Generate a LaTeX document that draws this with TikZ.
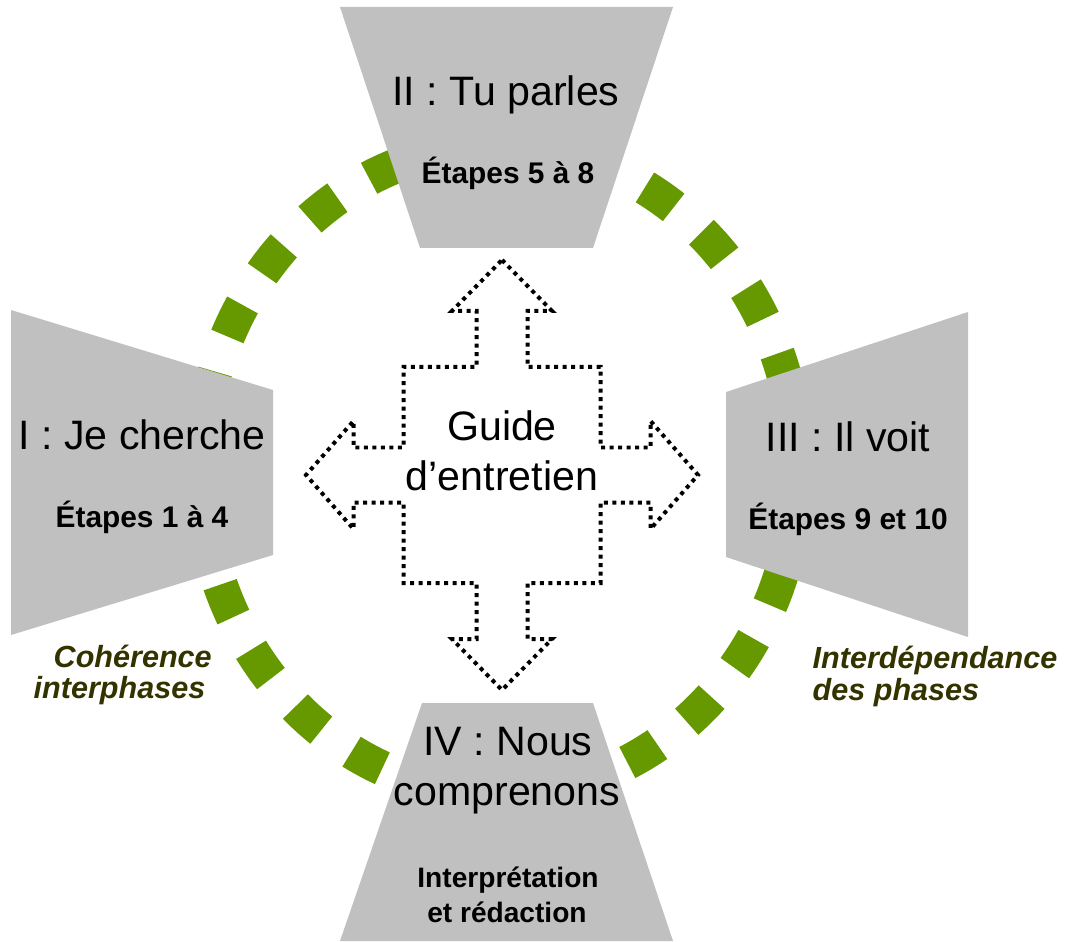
\documentclass[tikz,border=0pt]{standalone}
\usepackage{fontspec}
\setmainfont{Liberation Sans}
\definecolor{phasegray}{RGB}{192,192,192}
\definecolor{ringgreen}{RGB}{102,153,0}
\definecolor{notecol}{RGB}{51,51,0}

\begin{document}
\begin{tikzpicture}[
  phase/.style={fill=phasegray},
  title/.style={anchor=base, inner sep=0pt, font=\fontsize{11.7}{14}\selectfont},
  steps/.style={anchor=base, inner sep=0pt, font=\fontsize{8.5}{10}\selectfont\bfseries},
  note/.style={anchor=base west, inner sep=0pt, text=notecol, font=\fontsize{8.7}{10}\selectfont\bfseries\itshape},
  guide/.style={draw=black, fill=white, line width=0.04cm, dash pattern=on 0.04cm off 0.045cm}
]
\useasboundingbox (0,0) rectangle (10.75,9.41);

% Ring of green squares (27 dashes round the ellipse)
\draw[ringgreen, line width=0.35cm, dash pattern=on 0.35cm off 0.372cm, dash phase=0.608cm]
  (4.99,4.71) ellipse [x radius=2.98, y radius=3.24];

% Phase blocks (trapezoids, hardcoded corners)
\fill[phase] (3.40,9.34) -- (6.73,9.34) -- (5.93,6.93) -- (4.20,6.93) -- cycle; % II
\fill[phase] (0.11,6.31) -- (2.73,5.51) -- (2.73,3.86) -- (0.11,3.06) -- cycle; % I
\fill[phase] (9.68,6.29) -- (9.68,3.04) -- (7.26,3.84) -- (7.26,5.49) -- cycle; % III
\fill[phase] (4.22,2.38) -- (5.93,2.38) -- (6.73,0) -- (3.40,0) -- cycle;       % IV

% Four-way arrow round the guide
\draw[guide, shift={(5.02,4.66)}]
  (0,2.15) -- (0.5,1.64) -- (0.255,1.64) -- (0.255,1.08) -- (0.985,1.08)
  -- (0.985,0.275) -- (1.485,0.275) -- (1.485,0.54) -- (1.96,0) -- (1.485,-0.54)
  -- (1.485,-0.275) -- (0.985,-0.275) -- (0.985,-1.08) -- (0.255,-1.08)
  -- (0.255,-1.64) -- (0.5,-1.64) -- (0,-2.15) -- (-0.5,-1.64) -- (-0.255,-1.64)
  -- (-0.255,-1.08) -- (-0.985,-1.08) -- (-0.985,-0.275) -- (-1.485,-0.275)
  -- (-1.485,-0.54) -- (-1.96,0) -- (-1.485,0.54) -- (-1.485,0.275)
  -- (-0.985,0.275) -- (-0.985,1.08) -- (-0.255,1.08) -- (-0.255,1.64)
  -- (-0.5,1.64) -- cycle;
\node[title] (guide1) at (5.02,5.01) {Guide};
\node[title] (guide2) at (5.02,4.51) {d’entretien};

% Phase titles and steps
\node[title] (p2title) at (5.06,8.35) {II : Tu parles};
\node[steps] (p2steps) at (5.08,7.57) {Étapes 5 à 8};
\node[title] (p1title) at (1.42,4.92) {I : Je cherche};
\node[steps] (p1steps) at (1.42,4.14) {Étapes 1 à 4};
\node[title] (p3title) at (8.48,4.90) {III : Il voit};
\node[steps] (p3steps) at (8.48,4.12) {Étapes 9 et 10};
\node[title] (p4title) at (5.08,1.86) {IV : Nous};
\node[title] (p4title2) at (5.07,1.36) {comprenons};
\node[steps, font=\fontsize{8}{10}\selectfont\bfseries] (p4steps) at (5.08,0.54) {Interprétation};
\node[steps, font=\fontsize{8}{10}\selectfont\bfseries] (p4steps2) at (5.07,0.19) {et rédaction};

% Side notes
\node[note] (coh1) at (0.53,2.74) {Cohérence};
\node[note] (coh2) at (0.33,2.43) {interphases};
\node[note] (dep1) at (8.12,2.73) {Interdépendance};
\node[note] (dep2) at (8.12,2.41) {des phases};
\end{tikzpicture}
\end{document}
